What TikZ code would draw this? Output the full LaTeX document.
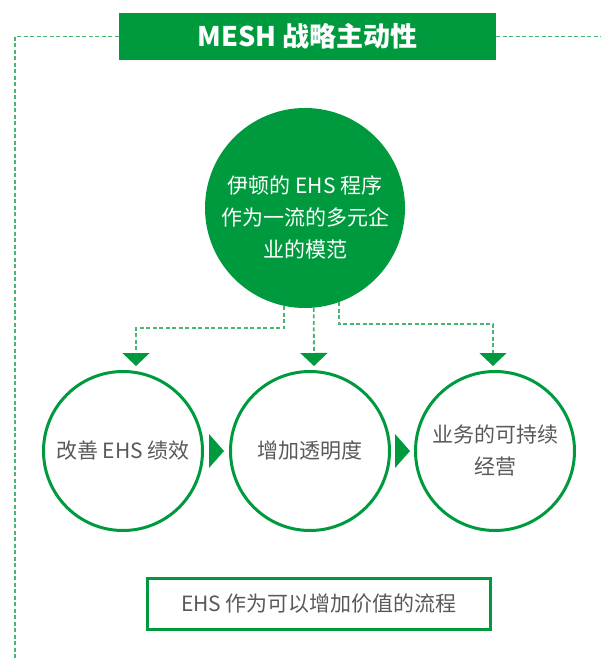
\documentclass[tikz,border=0pt]{standalone}
\usepackage{fontspec}
\setmainfont{Noto Sans CJK SC}
\usetikzlibrary{positioning}
\usetikzlibrary{calc}
\usetikzlibrary{arrows.meta}
\definecolor{egreen}{RGB}{0,154,62}
\definecolor{dgreen}{RGB}{70,182,114}
\definecolor{egray}{RGB}{89,89,89}

\begin{document}
\begin{tikzpicture}[x=1pt,y=-1pt,
 txt/.style={font=\fontsize{21}{32}\selectfont,align=center},
 ring/.style={circle,draw=egreen,line width=3pt,minimum size=159pt,inner sep=0pt,txt,text=egray},
 dline/.style={dgreen,line width=1.8pt,dash pattern=on 4pt off 2.5pt},
 down/.style={-{Triangle[width=27pt,length=13pt,color=egreen]},shorten >=4pt}]
 \useasboundingbox (0,0) rectangle (601,660);
 \node[fill=egreen,minimum width=377pt,minimum height=47pt,inner sep=0pt,text=white,font=\fontsize{27}{32}\selectfont\bfseries] (title) at (307.5,36.5) {MESH 战略主动性};
 \coordinate (fl) at (15,660);
 \coordinate (fr) at (601,36.5);
 \draw[dline] (title.west) -| (fl);
 \draw[dline] (title.east) -- (fr);
 \node[circle,fill=egreen,minimum size=200pt,inner sep=0pt] (goal) at (305,208) {};
 \node[txt,text=white] (goaltxt) at ([yshift=-9pt]goal.center) {伊顿的 EHS 程序\\作为一流的多元企\\业的模范};
 \node[ring] (c1) at (123,451) {改善 EHS 绩效};
 \node[ring] (c2) at (310,451) {增加透明度};
 \node[ring] (c3) at (495,451) {业务的可持续\\经营};
 \draw[dline,down] (goal.258) -- ++(0,22) -| ([xshift=13pt]c1.north);
 \draw[dline,down] (goal.275) -- ([xshift=4pt]c2.north);
 \draw[dline,down] (goal.290) -- ++(0,22) -| ([xshift=-2pt]c3.north);
 \fill[egreen] ($(c1.east)!0.5!(c2.west)$) ++(-7.5,-17) -- ++(15,17) -- ++(-15,17) -- cycle;
 \fill[egreen] ($(c2.east)!0.5!(c3.west)$) ++(-7.5,-17) -- ++(15,17) -- ++(-15,17) -- cycle;
 \node[draw=egreen,line width=3pt,minimum width=343pt,minimum height=51pt,txt,text=egray] (note) at (319,604) {EHS 作为可以增加价值的流程};
\end{tikzpicture}
\end{document}
